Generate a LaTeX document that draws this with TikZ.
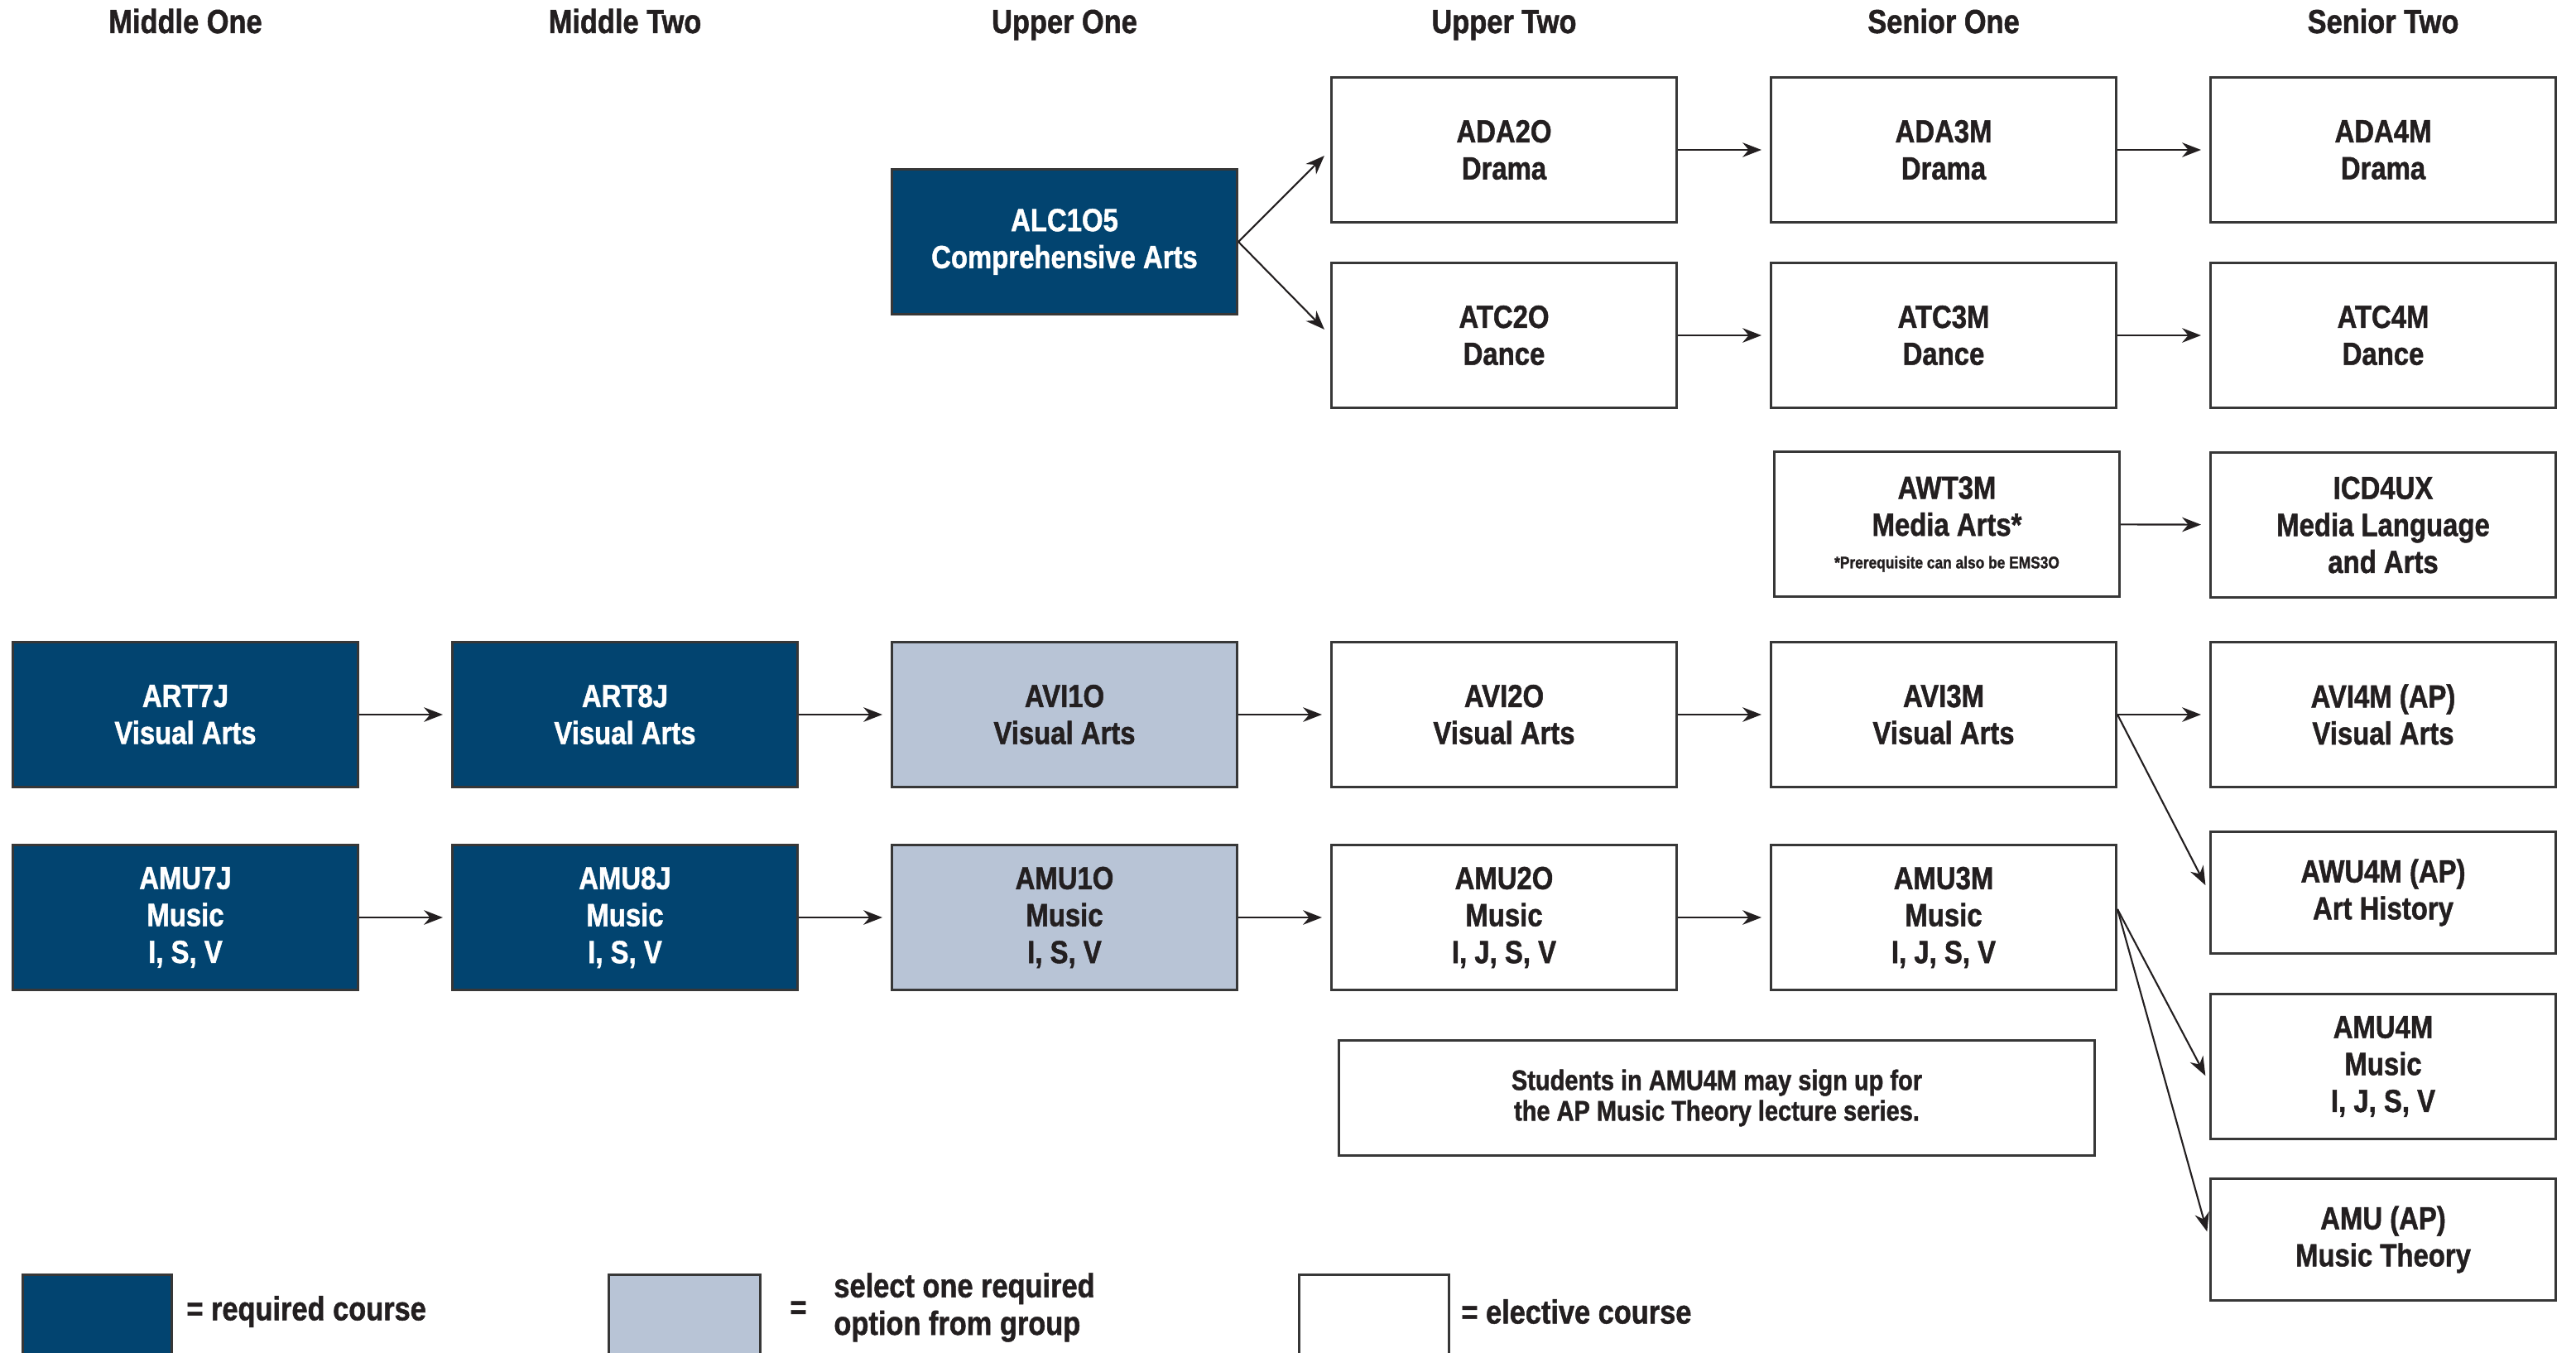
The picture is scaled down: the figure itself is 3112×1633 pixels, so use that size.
\documentclass[tikz,border=0pt]{standalone}
\usepackage{fontspec}
\setmainfont{Liberation Sans}[FakeStretch=0.85,BoldFeatures={FakeBold=1.2}]
\usetikzlibrary{arrows.meta}
\definecolor{navy}{RGB}{2,68,112}
\definecolor{paleblue}{RGB}{184,196,214}
\definecolor{ink}{RGB}{35,31,32}
\definecolor{boxline}{RGB}{55,55,55}

\begin{document}
\begin{tikzpicture}[x=0.01cm,y=-0.01cm,>={Stealth[length=6.5pt,width=5pt]},
    every node/.style={font=\bfseries\fontsize{11}{12.7}\selectfont,align=center,text=ink},
    course/.style={draw=boxline,line width=0.8pt,fill=white,minimum width=4.17cm,minimum height=1.75cm,inner sep=0pt},
    req/.style={course,fill=navy,text=white},
    opt/.style={course,fill=paleblue},
    short/.style={minimum height=1.47cm},
    key/.style={font=\bfseries\fontsize{11.5}{12.9}\selectfont},
    hdr/.style={key,anchor=base},
    link/.style={->,line width=0.6pt,draw=ink,shorten >=0.1cm}]

                \useasboundingbox (0,0) rectangle (3112,1633);
                \clip (0,0) rectangle (3112,1633);

                \node[hdr] (h1) at (224,40) {Middle One};
                \node[hdr] (h2) at (755,40) {Middle Two};
                \node[hdr] (h3) at (1286,40) {Upper One};
                \node[hdr] (h4) at (1817,40) {Upper Two};
                \node[hdr] (h5) at (2348,40) {Senior One};
                \node[hdr] (h6) at (2879,40) {Senior Two};

                \node[req] (alc) at (1286,292) {ALC1O5\\Comprehensive Arts};
                \node[course] (ada2) at (1817,181) {ADA2O\\Drama};
                \node[course] (ada3) at (2348,181) {ADA3M\\Drama};
                \node[course] (ada4) at (2879,181) {ADA4M\\Drama};
                \node[course] (atc2) at (1817,405) {ATC2O\\Dance};
                \node[course] (atc3) at (2348,405) {ATC3M\\Dance};
                \node[course] (atc4) at (2879,405) {ATC4M\\Dance};

                \node[course] (awt3) at (2352,633) {AWT3M\\Media Arts*\\[-1.5pt]{\fontsize{5.8}{6}\selectfont *Prerequisite can also be EMS3O}};
                \node[course] (icd4) at (2879,634) {ICD4UX\\Media Language\\and Arts};

                \node[req] (art7) at (224,863) {ART7J\\Visual Arts};
                \node[req] (art8) at (755,863) {ART8J\\Visual Arts};
                \node[opt] (avi1) at (1286,863) {AVI1O\\Visual Arts};
                \node[course] (avi2) at (1817,863) {AVI2O\\Visual Arts};
                \node[course] (avi3) at (2348,863) {AVI3M\\Visual Arts};
                \node[course] (avi4) at (2879,863) {AVI4M (AP)\\Visual Arts};
                \node[course,short] (awu4) at (2879,1078) {AWU4M (AP)\\Art History};

                \node[req] (amu7) at (224,1108) {AMU7J\\Music\\I, S, V};
                \node[req] (amu8) at (755,1108) {AMU8J\\Music\\I, S, V};
                \node[opt] (amu1) at (1286,1108) {AMU1O\\Music\\I, S, V};
                \node[course] (amu2) at (1817,1108) {AMU2O\\Music\\I, J, S, V};
                \node[course] (amu3) at (2348,1108) {AMU3M\\Music\\I, J, S, V};
                \node[course] (amu4) at (2879,1288) {AMU4M\\Music\\I, J, S, V};
                \node[course,short] (amuap) at (2879,1497) {AMU (AP)\\Music Theory};

                \node[course,minimum width=9.13cm,minimum height=1.39cm,font=\bfseries\fontsize{9.7}{10.5}\selectfont] (note) at (2074,1326) {Students in AMU4M may sign up for\\the AP Music Theory lecture series.};

                \draw[link] (alc.east) -- (ada2.west);
                \draw[link] (alc.east) -- (atc2.west);
                \draw[link] (ada2) -- (ada3);
                \draw[link] (ada3) -- (ada4);
                \draw[link] (atc2) -- (atc3);
                \draw[link] (atc3) -- (atc4);
                \draw[link] (awt3) -- (icd4);
                \draw[link] (art7) -- (art8);
                \draw[link] (art8) -- (avi1);
                \draw[link] (avi1) -- (avi2);
                \draw[link] (avi2) -- (avi3);
                \draw[link] (avi3) -- (avi4);
                \draw[link] (avi3.east) -- (awu4.west);
                \draw[link] (amu7) -- (amu8);
                \draw[link] (amu8) -- (amu1);
                \draw[link] (amu1) -- (amu2);
                \draw[link] (amu2) -- (amu3);
                \draw[link] ([yshift=0.1cm]amu3.east) -- ([yshift=-0.2cm]amu4.west);
                \draw[link] ([yshift=0.1cm]amu3.east) -- (amuap.west);

                \node[req,anchor=north west,minimum width=1.8cm,minimum height=1.3cm] (kreq) at (26,1538) {};
                \node[key,anchor=west] (treq) at (213,1584) {= required course};
                \node[opt,anchor=north west,minimum width=1.83cm,minimum height=1.3cm] (kopt) at (734,1538) {};
                \node[key,anchor=west] (eqopt) at (942,1582) {=};
                \node[key,anchor=west,align=left] (topt) at (995,1579) {select one required\\option from group};
                \node[course,anchor=north west,minimum width=1.81cm,minimum height=1.3cm] (kel) at (1568,1538) {};
                \node[key,anchor=west] (tel) at (1753,1584) {= elective course};
            \end{tikzpicture}
\end{document}
